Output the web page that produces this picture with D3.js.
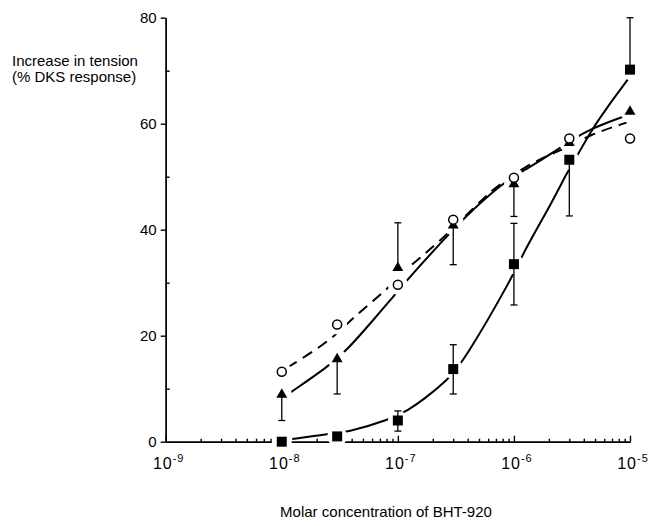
<!DOCTYPE html>
<html lang="en">
<head>
<meta charset="utf-8">
<title>BHT-920 concentration response</title>
<script src="https://cdnjs.cloudflare.com/ajax/libs/d3/7.8.5/d3.min.js"></script>
<style>
  body { margin: 0; background: #fff; }
  svg { font-family: "Liberation Sans", Arial, sans-serif; }
  .axis path, .axis line { stroke: #000; stroke-width: 1.4; }
  .axis text { font-size: 15px; fill: #000; }
</style>
</head>
<body>
<div id="chart"></div>
<script>
// concentrations tested (M)
const conc = [1e-8, 3e-8, 1e-7, 3e-7, 1e-6, 3e-6, 1e-5];

// open circles (dashed fit)
const circleMean = [13.2, 22.1, 29.6, 41.9, 49.8, 57.2, 57.2];
// filled triangles (solid fit), one-sided error bars
const triMean = [8.9, 15.6, 32.8, 40.8, 48.6, 56.4, 62.3];
const triErrEnd = [4.0, 9.0, 41.3, 33.4, 42.5, null, null];
// filled squares (solid fit)
const sqMean = [0, 1.0, 4.0, 13.7, 33.5, 53.2, 70.2];
const sqErrLow = [null, null, 2.0, 9.0, 25.8, 42.6, null];
const sqErrHigh = [null, null, 5.8, 18.3, 41.2, null, 80];

// fitted curves: [log10 conc, value]
const circleFit = [[-7.95, 14.0], [-7.57, 19.2], [-7.39, 23.4], [-7.07, 29.1], [-6.96, 32.1],
  [-6.66, 37.2], [-6.21, 47.2], [-6.08, 49.1], [-5.92, 51.7], [-5.69, 54.2], [-5.58, 55.1],
  [-5.35, 57.9], [-5.03, 60.2]];
const triFit = [[-7.93, 9.2], [-7.60, 14.2], [-7.45, 17.0], [-7.21, 23.0], [-7.05, 27.1],
  [-6.87, 31.8], [-6.55, 39.4], [-6.45, 41.8], [-6.09, 49.0], [-5.90, 51.3], [-5.63, 55.0],
  [-5.38, 58.8], [-5.01, 61.7]];
const sqFit = [[-7.91, 0.5], [-7.60, 1.5], [-7.45, 1.7], [-7.06, 4.2], [-6.91, 6.0],
  [-6.78, 7.9], [-6.57, 11.7], [-6.44, 14.9], [-6.01, 31.1], [-5.92, 35.7], [-5.66, 45.6],
  [-5.55, 50.5], [-5.44, 54.5], [-5.35, 58.1], [-5.22, 62.4], [-5.02, 68.3]];

const decades = [-9, -8, -7, -6, -5];
const yMajor = [0, 20, 40, 60, 80];
const yMinor = [10, 30, 50, 70];

const w = 653, h = 526;
const plotLeft = 165.7, plotRight = 630, plotTop = 17.7, plotBottom = 441.7;

const svg = d3.select("#chart").append("svg")
  .attr("width", w).attr("height", h);

const x = d3.scaleLog().domain([1e-9, 1e-5]).range([plotLeft, plotRight]);
const y = d3.scaleLinear().domain([0, 80]).range([plotBottom, plotTop]);

// minor log ticks
let minorX = [];
decades.slice(0, -1).forEach(e => {
  for (let k = 2; k <= 9; k++) minorX.push(k * Math.pow(10, e));
});

// x axis (ticks pointing up into the plot)
svg.append("g").attr("class", "axis")
  .attr("transform", "translate(0," + plotBottom + ")")
  .call(d3.axisTop(x).tickValues(minorX).tickSize(3).tickSizeOuter(0).tickFormat(""));
svg.append("g").attr("class", "axis")
  .attr("transform", "translate(0," + plotBottom + ")")
  .call(d3.axisTop(x).tickValues(decades.map(e => Math.pow(10, e))).tickSize(6).tickSizeOuter(0).tickFormat(""));

// y axis
svg.append("g").attr("class", "axis")
  .attr("transform", "translate(" + plotLeft + ",0)")
  .call(d3.axisLeft(y).tickValues(yMajor).tickSize(5).tickSizeOuter(0).tickPadding(4));
svg.append("g").attr("class", "axis")
  .attr("transform", "translate(" + plotLeft + ",0)")
  .call(d3.axisRight(y).tickValues(yMinor).tickSize(4).tickSizeOuter(0).tickFormat(""));

// x tick labels with superscript exponents
const xl = svg.append("g").selectAll("text").data(decades).enter().append("text")
  .attr("x", d => x(Math.pow(10, d)) + 3)
  .attr("y", 469)
  .attr("text-anchor", "middle")
  .style("font-size", "16px")
  .style("letter-spacing", "1px");
xl.append("tspan").text("10");
xl.append("tspan").attr("dy", -7).style("font-size", "11px").text(d => "-" + Math.abs(d));

// axis titles
svg.append("text").attr("x", 12).attr("y", 66).style("font-size", "15px").text("Increase in tension");
svg.append("text").attr("x", 12).attr("y", 82).style("font-size", "15px").text("(% DKS response)");
svg.append("text").attr("x", 386).attr("y", 517).attr("text-anchor", "middle")
  .style("font-size", "15px").text("Molar concentration of BHT-920");

// fitted curves
const line = d3.line()
  .x(d => x(Math.pow(10, d[0])))
  .y(d => y(d[1]))
  .curve(d3.curveBasis);

svg.append("path").datum(circleFit).attr("d", line)
  .attr("fill", "none").attr("stroke", "#000").attr("stroke-width", 2)
  .attr("stroke-dasharray", "11,7");
svg.append("path").datum(triFit).attr("d", line)
  .attr("fill", "none").attr("stroke", "#000").attr("stroke-width", 2);
svg.append("path").datum(sqFit).attr("d", line)
  .attr("fill", "none").attr("stroke", "#000").attr("stroke-width", 2);

// knock out the lines around each symbol
const allPts = [];
conc.forEach((c, i) => {
  allPts.push([c, circleMean[i]], [c, triMean[i]], [c, sqMean[i]]);
});
svg.append("g").selectAll("circle").data(allPts).enter().append("circle")
  .attr("cx", d => x(d[0])).attr("cy", d => y(d[1])).attr("r", 10).attr("fill", "#fff");

// error bars
function errBar(c, from, to) {
  const g = svg.append("g").attr("stroke", "#000").attr("stroke-width", 1.3);
  g.append("line").attr("x1", x(c)).attr("x2", x(c)).attr("y1", y(from)).attr("y2", y(to));
  g.append("line").attr("x1", x(c) - 3.5).attr("x2", x(c) + 3.5).attr("y1", y(to)).attr("y2", y(to));
}
conc.forEach((c, i) => {
  if (triErrEnd[i] !== null) errBar(c, triMean[i], triErrEnd[i]);
  if (sqErrLow[i] !== null) errBar(c, sqMean[i], sqErrLow[i]);
  if (sqErrHigh[i] !== null) errBar(c, sqMean[i], sqErrHigh[i]);
});

// symbols
svg.append("g").selectAll("rect").data(conc).enter().append("rect")
  .attr("x", d => x(d) - 5).attr("y", (d, i) => y(sqMean[i]) - 5)
  .attr("width", 10).attr("height", 10).attr("fill", "#000");

const tri = d3.symbol().type(d3.symbolTriangle).size(52);
svg.append("g").selectAll("path").data(conc).enter().append("path")
  .attr("d", tri)
  .attr("transform", (d, i) => "translate(" + x(d) + "," + y(triMean[i]) + ")")
  .attr("fill", "#000");

svg.append("g").selectAll("circle").data(conc).enter().append("circle")
  .attr("cx", d => x(d)).attr("cy", (d, i) => y(circleMean[i]))
  .attr("r", 4.5).attr("fill", "#fff").attr("stroke", "#000").attr("stroke-width", 1.5);
</script>
</body>
</html>
